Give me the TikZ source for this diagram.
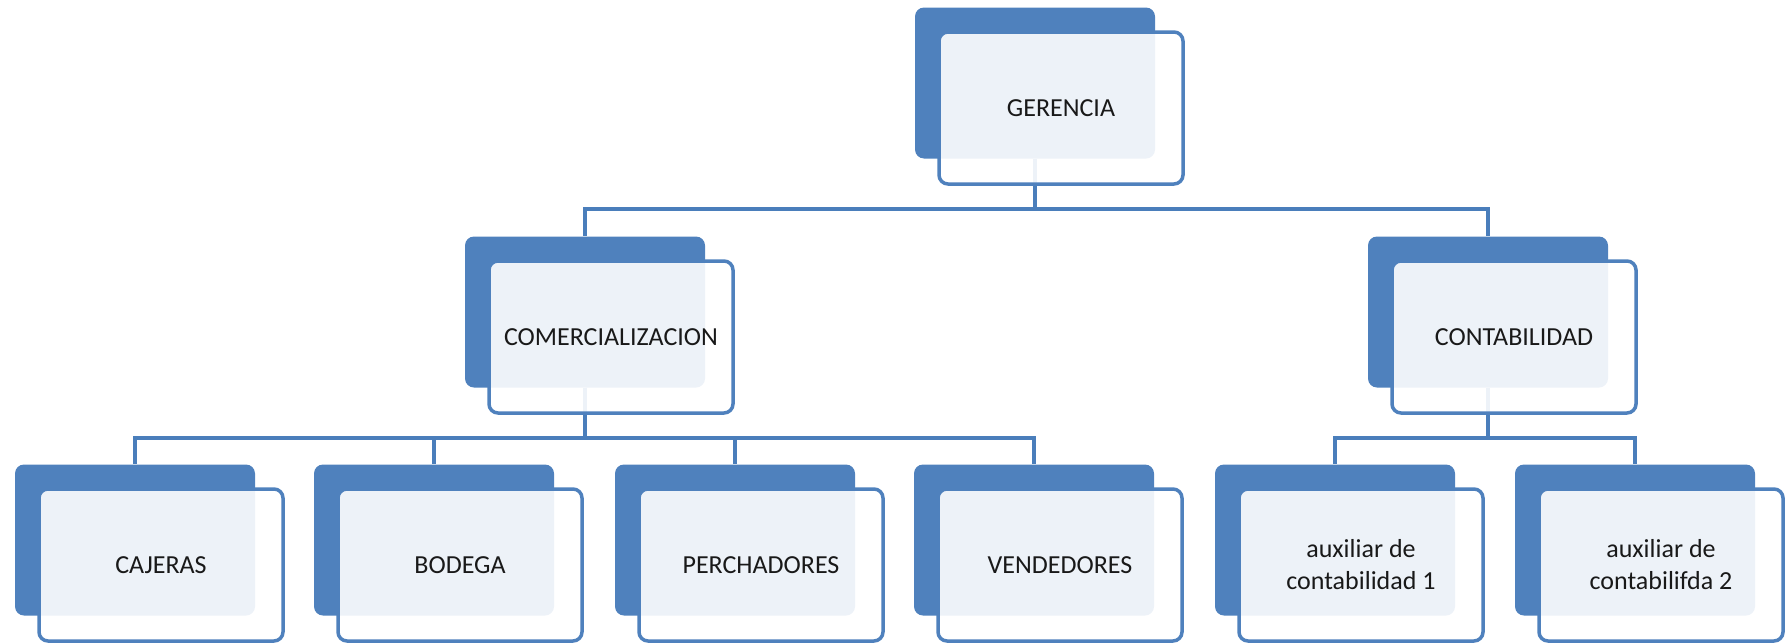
\documentclass[tikz,border=0pt]{standalone}
\usepackage{fontspec}
\setmainfont{Carlito}
\definecolor{orgblue}{RGB}{79,129,189}
\definecolor{orgline}{RGB}{74,126,187}

\begin{document}
\begin{tikzpicture}[x=1pt,y=-1pt,
  back/.style={fill=orgblue,rounded corners=9pt,minimum width=240pt,minimum height=151pt,inner sep=0pt},
  front/.style={draw=orgblue,line width=3.5pt,fill=white,fill opacity=0.9,text opacity=1,rounded corners=9pt,minimum width=244pt,minimum height=152pt,inner sep=0pt,align=center,text=black!90,font=\fontsize{26}{32}\selectfont},
  conn/.style={draw=orgline,line width=4.5pt}]
\useasboundingbox (0,0) rectangle (1791,643);

\node[back] (gerB) at (1035,83) {};
\node[back] (comB) at (585,312) {};
\node[back] (conB) at (1488,312) {};
\node[back] (cajB) at (135,540) {};
\node[back] (bodB) at (434,540) {};
\node[back] (perB) at (735,540) {};
\node[back] (venB) at (1034,540) {};
\node[back] (aux1B) at (1335,540) {};
\node[back] (aux2B) at (1635,540) {};

\coordinate (bar1) at (0,209);
\coordinate (bar2) at (0,438);

\foreach \c in {comB,conB}
  \path[conn] (gerB.south) -- (gerB.south |- bar1) -| (\c.north);
\foreach \c in {cajB,bodB,perB,venB}
  \path[conn] (comB.south) -- (comB.south |- bar2) -| (\c.north);
\foreach \c in {aux1B,aux2B}
  \path[conn] (conB.south) -- (conB.south |- bar2) -| (\c.north);

\node[front] (gerF) at ([shift={(26,25)}]gerB.center) {GERENCIA};
\node[front] (comF) at ([shift={(26,25)}]comB.center) {COMERCIALIZACION};
\node[front] (conF) at ([shift={(26,25)}]conB.center) {CONTABILIDAD};
\node[front] (cajF) at ([shift={(26,25)}]cajB.center) {CAJERAS};
\node[front] (bodF) at ([shift={(26,25)}]bodB.center) {BODEGA};
\node[front] (perF) at ([shift={(26,25)}]perB.center) {PERCHADORES};
\node[front] (venF) at ([shift={(26,25)}]venB.center) {VENDEDORES};
\node[front] (aux1F) at ([shift={(26,25)}]aux1B.center) {auxiliar de\\contabilidad 1};
\node[front] (aux2F) at ([shift={(26,25)}]aux2B.center) {auxiliar de\\contabilifda 2};
\end{tikzpicture}
\end{document}
